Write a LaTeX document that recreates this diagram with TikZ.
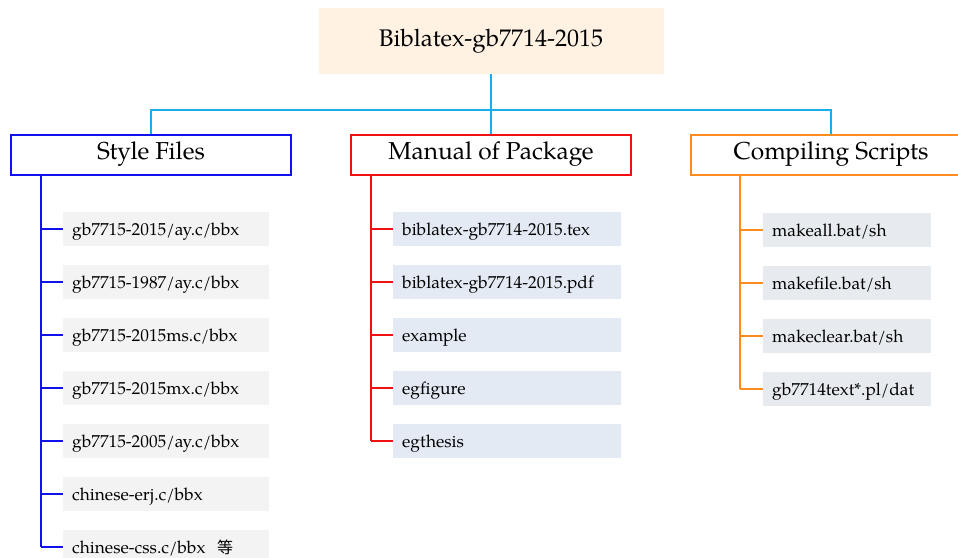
\documentclass[tikz,border=0pt]{standalone}
\usepackage{fontspec}
\setmainfont{TeX Gyre Pagella}
\newfontfamily\cjk{Noto Sans CJK SC}
\definecolor{rootfill}{HTML}{FFF2E3}
\definecolor{cyanline}{HTML}{1AAEE8}
\definecolor{bluec}{HTML}{1010F0}
\definecolor{redc}{HTML}{F01010}
\definecolor{orangec}{HTML}{FF8A1E}
\definecolor{grayfill}{HTML}{F3F3F3}
\definecolor{bluefill}{HTML}{E3EAF3}
\definecolor{slatefill}{HTML}{E7EBEF}
\tikzset{
  rootbox/.style={fill=rootfill, minimum width=345pt, minimum height=66pt, inner sep=0pt, font=\fontsize{24}{27}\selectfont},
  headbox/.style={draw=#1, fill=white, line width=2pt, minimum width=280pt, minimum height=40pt, inner sep=0pt, font=\fontsize{24.5}{27}\selectfont},
  leafbox/.style={fill=#1, anchor=west, minimum height=34pt, inner sep=0pt, inner xsep=9pt, text depth=0pt, font=\fontsize{17.3}{20}\selectfont, align=left},
  conn/.style={draw=#1, line width=1.6pt},
}
\begin{document}
\begin{tikzpicture}[x=1pt,y=-1pt]
\useasboundingbox (0,0) rectangle (958,557);
\node[rootbox] (root) at (491,41) {Biblatex-gb7714-2015};
\node[headbox=bluec] (h1) at (151,154.5) {Style Files};
\node[headbox=redc] (h2) at (491,154.5) {Manual of Package};
\node[headbox=orangec] (h3) at (831,154.5) {Compiling Scripts};
\coordinate (mid) at (491,110);
\draw[conn=cyanline] (root.south) -- (mid);
\draw[conn=cyanline] (h1.north) |- (mid) -| (h3.north);
\draw[conn=cyanline] (mid) -- (h2.north);
% Style files leaves
\foreach \t [count=\i] in {gb7715-2015/ay.c/bbx, gb7715-1987/ay.c/bbx, gb7715-2015ms.c/bbx, gb7715-2015mx.c/bbx, gb7715-2005/ay.c/bbx, chinese-erj.c/bbx}{
  \node[leafbox=grayfill, text width=188pt] (a\i) at (63,229+53*\i-53) {\t};
  \coordinate (ac\i) at (41,229+53*\i-53);
  \draw[conn=bluec] (ac\i) -- (a\i.west);
}
\node[leafbox=grayfill, text width=188pt] (a7) at (63,547) {chinese-css.c/bbx\ \ {\cjk\fontsize{16}{19}\selectfont 等}};
\coordinate (ac7) at (41,547);
\draw[conn=bluec] (ac7) -- (a7.west);
\draw[conn=bluec] (h1.south -| ac1) -- (ac7);
% Manual leaves
\foreach \t [count=\i] in {biblatex-gb7714-2015.tex, biblatex-gb7714-2015.pdf, example, egfigure, egthesis}{
  \node[leafbox=bluefill, text width=210pt] (b\i) at (393,229+53*\i-53) {\t};
  \coordinate (bc\i) at (371,229+53*\i-53);
  \draw[conn=redc] (bc\i) -- (b\i.west);
}
\draw[conn=redc] (h2.south -| bc1) -- (bc5);
% Compiling leaves
\foreach \t [count=\i] in {makeall.bat/sh, makefile.bat/sh, makeclear.bat/sh, gb7714text*.pl/dat}{
  \node[leafbox=slatefill, text width=150pt] (c\i) at (763,230+53*\i-53) {\t};
  \coordinate (cc\i) at (740,230+53*\i-53);
  \draw[conn=orangec] (cc\i) -- (c\i.west);
}
\draw[conn=orangec] (h3.south -| cc1) -- (cc4);
\end{tikzpicture}
\end{document}
